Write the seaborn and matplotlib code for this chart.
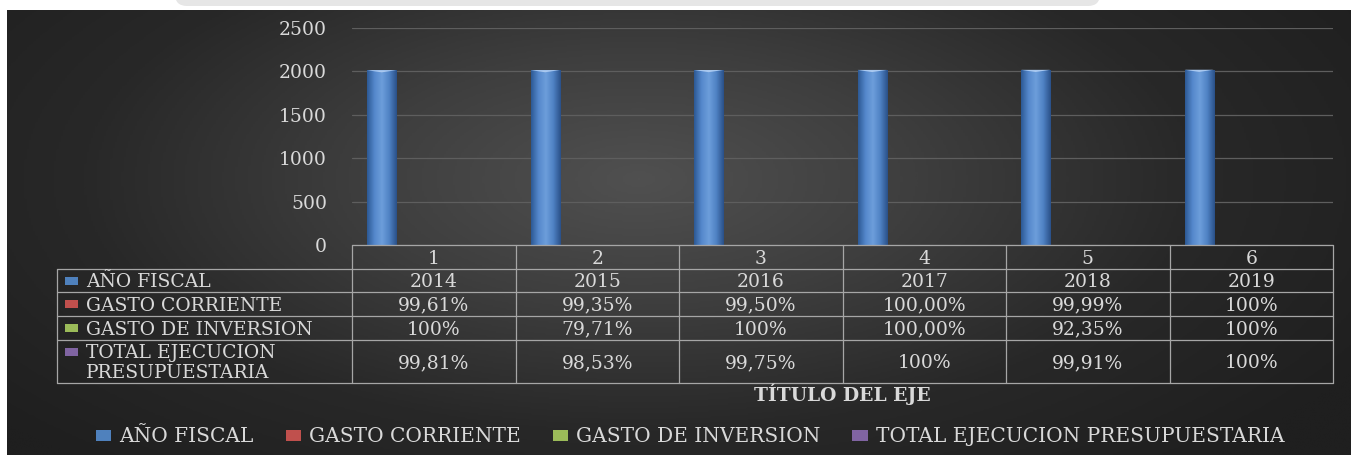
import numpy as np
import pandas as pd
import matplotlib
matplotlib.use("Agg")
import matplotlib.pyplot as plt
from matplotlib.colors import LinearSegmentedColormap
from matplotlib.patches import Rectangle, FancyBboxPatch
import seaborn as sns

# ---- data ----
categories = ["1", "2", "3", "4", "5", "6"]
series_names = ["AÑO FISCAL", "GASTO CORRIENTE", "GASTO DE INVERSION", "TOTAL EJECUCION PRESUPUESTARIA"]
anio_fiscal = [2014, 2015, 2016, 2017, 2018, 2019]
gasto_corriente = [0.9961, 0.9935, 0.9950, 1.0000, 0.9999, 1.0]
gasto_inversion = [1.0, 0.7971, 1.0, 1.0000, 0.9235, 1.0]
total_ejecucion = [0.9981, 0.9853, 0.9975, 1.0, 0.9991, 1.0]
# table labels as printed in the chart
corriente_labels = ["99,61%", "99,35%", "99,50%", "100,00%", "99,99%", "100%"]
inversion_labels = ["100%", "79,71%", "100%", "100,00%", "92,35%", "100%"]
total_labels = ["99,81%", "98,53%", "99,75%", "100%", "99,91%", "100%"]
row_labels = [["AÑO FISCAL"], ["GASTO CORRIENTE"], ["GASTO DE INVERSION"],
              ["TOTAL EJECUCION", "PRESUPUESTARIA"]]
series_colors = ["#4f81bd", "#c0504d", "#9bbb59", "#8064a2"]
yticks = [0, 500, 1000, 1500, 2000, 2500]

df = pd.DataFrame({
    "categoria": categories * 4,
    "serie": np.repeat(series_names, len(categories)),
    "valor": anio_fiscal + gasto_corriente + gasto_inversion + total_ejecucion,
})

W, H = 1351, 458
TXT = "#d9d9d9"
FONT = "DejaVu Serif"
VAL_FS = 13.5
LAB_FS = 13.5

sns.set_theme(style="dark")
plt.rcParams["font.family"] = [FONT]

fig = plt.figure(figsize=(W / 100, H / 100), dpi=100, facecolor="white")

# background with radial shading
bg = fig.add_axes([0, 0, 1, 1], zorder=0)
bg.axis("off")
gy, gx = np.mgrid[0:1:300j, 0:1:600j]
r = np.sqrt(((gx - 0.47) / 0.62) ** 2 + ((gy - 0.38) / 0.85) ** 2)
bg_cmap = LinearSegmentedColormap.from_list("bg", ["#505050", "#3e3e3e", "#282828", "#1f1f1f"])
bg.imshow(np.clip(r, 0, 1), cmap=bg_cmap, vmin=0, vmax=1, extent=[7, W, 455, 10], aspect="auto")
bg.add_patch(FancyBboxPatch((175, -30), 925, 36, boxstyle="round,pad=0,rounding_size=12",
                            facecolor="#e6e6e6", edgecolor="none"))
bg.set_xlim(0, W)
bg.set_ylim(H, 0)

# main plot area
x0, x1, ytop, ybot = 352, 1333, 28, 245
ax = fig.add_axes([x0 / W, 1 - ybot / H, (x1 - x0) / W, (ybot - ytop) / H], zorder=1)
ax.set_facecolor("none")
sns.barplot(data=df, x="categoria", y="valor", hue="serie", hue_order=series_names,
            palette=series_colors, width=0.85, gap=0.16, legend=False, ax=ax,
            edgecolor="none", zorder=3)
ax.set_ylim(0, 2500)
ax.set_yticks(yticks)
ax.set_yticklabels([str(v) for v in yticks], color=TXT, fontsize=13.5)
ax.tick_params(axis="y", length=0, pad=18)
ax.set_xticks([])
ax.set_xlabel("")
ax.set_ylabel("")
ax.grid(axis="y", color="#5e5e5e", linewidth=0.9)
ax.grid(axis="x", visible=False)
for s in ax.spines.values():
    s.set_visible(False)

# glossy gradient across each visible bar
bar_cmap = LinearSegmentedColormap.from_list("bar", ["#2d5a95", "#5588cc", "#6d9edb", "#4f82c4", "#2a5189"])
grad = np.linspace(0, 1, 64).reshape(1, -1)
for p in list(ax.patches):
    if p.get_height() > 50:
        bx, by, bw, bh = p.get_x(), p.get_y(), p.get_width(), p.get_height()
        im = ax.imshow(grad, cmap=bar_cmap, extent=[bx, bx + bw, by, by + bh], aspect="auto", zorder=4)
        im.set_clip_path(p)
        ax.fill([bx, bx + bw, bx + bw * 0.5], [by + bh, by + bh, by + bh - 25],
                color="#a9c8ef", zorder=5, lw=0)
ax.set_xlim(-0.5, len(categories) - 0.5)
ax.set_ylim(0, 2500)

# data table below the plot
tb = fig.add_axes([0, 0, 1, 1], zorder=2)
tb.set_xlim(0, W)
tb.set_ylim(H, 0)
tb.axis("off")
col_edges = np.linspace(x0, x1, len(categories) + 1)
row_edges = [245, 269, 292, 316, 340, 383]
lab_left = 57
lc = "#a6a6a6"
lw = 0.9
tb.plot([x0, x1], [row_edges[0], row_edges[0]], color=lc, lw=lw)
for yy in row_edges[1:]:
    tb.plot([lab_left, x1], [yy, yy], color=lc, lw=lw)
tb.plot([lab_left, lab_left], [row_edges[1], row_edges[-1]], color=lc, lw=lw)
for xx in col_edges:
    tb.plot([xx, xx], [row_edges[0], row_edges[-1]], color=lc, lw=lw)


def cap_half(fs):
    # half the cap height in pixels, to sit text visually centred on a baseline
    return 0.5 * 0.729 * fs * 100 / 72


centers = (col_edges[:-1] + col_edges[1:]) / 2
table_rows = [categories, [str(v) for v in anio_fiscal], corriente_labels, inversion_labels, total_labels]
for i, row in enumerate(table_rows):
    yc = (row_edges[i] + row_edges[i + 1]) / 2
    for xc, txt in zip(centers, row):
        tb.text(xc, yc + cap_half(VAL_FS), txt, ha="center", va="baseline", color=TXT, fontsize=VAL_FS)

line_step = 20
for i, (lines, col) in enumerate(zip(row_labels, series_colors)):
    yc = (row_edges[i + 1] + row_edges[i + 2]) / 2
    first = yc - (len(lines) - 1) * line_step / 2
    tb.add_patch(Rectangle((65, first - 4), 13, 8, facecolor=col, edgecolor="none"))
    for k, line in enumerate(lines):
        tb.text(86, first + k * line_step + cap_half(LAB_FS), line, ha="left", va="baseline",
                color=TXT, fontsize=LAB_FS)

tb.text((x0 + x1) / 2, 394 + cap_half(13.5), "TÍTULO DEL EJE", ha="center", va="baseline",
        color=TXT, fontsize=13.5, fontweight="bold")

# legend
handles = [Rectangle((0, 0), 1, 1, facecolor=c, edgecolor="none") for c in series_colors]
leg = fig.legend(handles, series_names, loc="center", bbox_to_anchor=(690 / W, 1 - 437 / H),
                 ncol=4, frameon=False, fontsize=14.5, handlelength=0.75, handleheight=0.5,
                 handletextpad=0.4, columnspacing=1.6, labelcolor=TXT)

fig.savefig("out.png", dpi=100, facecolor="white")
